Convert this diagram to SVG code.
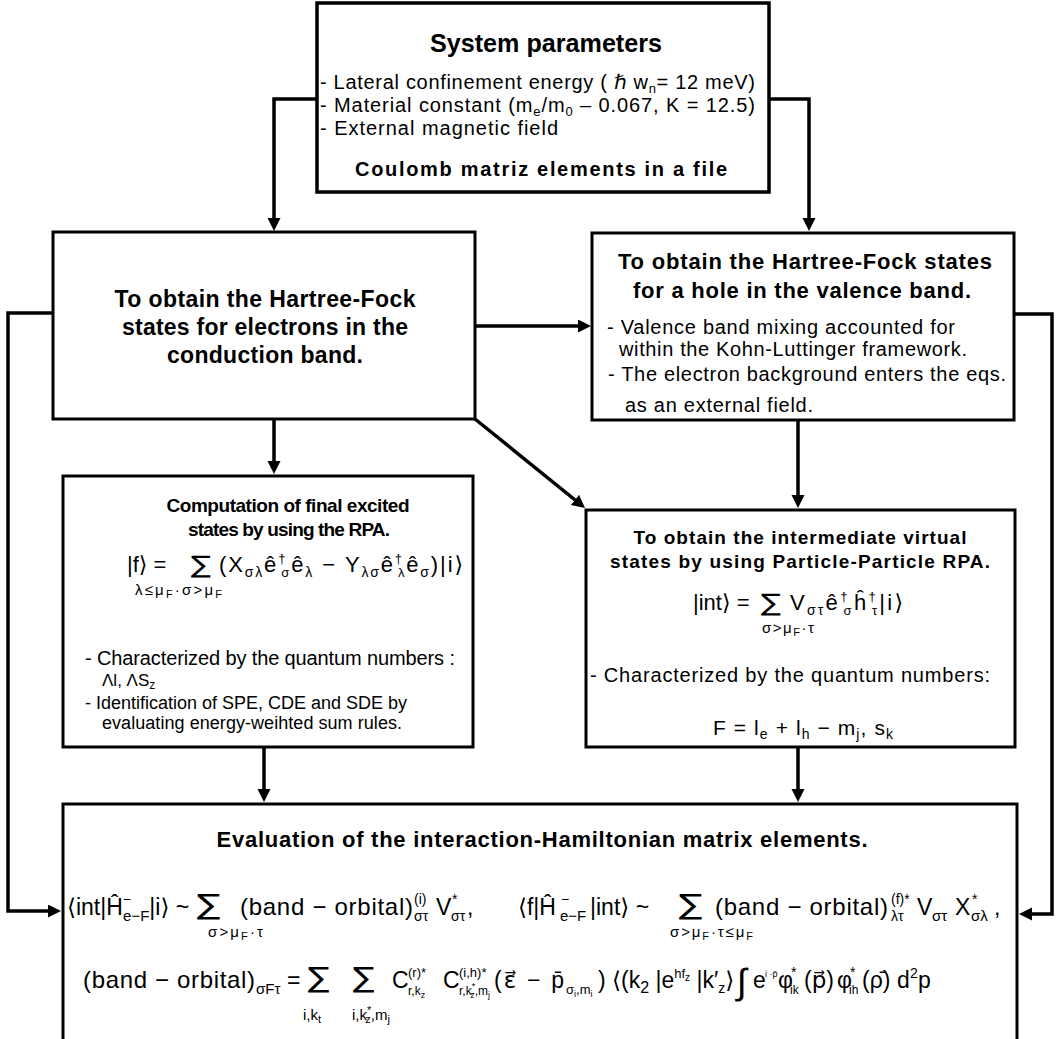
<svg xmlns="http://www.w3.org/2000/svg" width="1057" height="1039" viewBox="0 0 1057 1039">
<style>
text{font-family:"Liberation Sans","DejaVu Sans",sans-serif;fill:#000}
.b{font-weight:bold}
.box{fill:#fff;stroke:#000;stroke-width:3}
.c{fill:none;stroke:#000;stroke-width:3.5}
.m{text-anchor:middle}
.sum{font-family:"DejaVu Sans",sans-serif}
</style>
<defs>
<marker id="ah" markerUnits="userSpaceOnUse" markerWidth="14" markerHeight="14" refX="9" refY="6.5" orient="auto"><path d="M0,0 L13,6.5 L0,13 z" fill="#000"/></marker>
</defs>
<rect width="1057" height="1039" fill="#fff"/>

<g id="connectors">
<path class="c" d="M317,99 H274 V227" marker-end="url(#ah)"/>
<path class="c" d="M769,99 H809 V227" marker-end="url(#ah)"/>
<path class="c" d="M475,326 H587" marker-end="url(#ah)"/>
<path class="c" d="M274,419 V470" marker-end="url(#ah)"/>
<path class="c" d="M475,419 L581.9,505.5" marker-end="url(#ah)"/>
<path class="c" d="M798,420 V504" marker-end="url(#ah)"/>
<path class="c" d="M264,747 V798" marker-end="url(#ah)"/>
<path class="c" d="M798,747 V798" marker-end="url(#ah)"/>
<path class="c" d="M53,313 H8 V911 H57" marker-end="url(#ah)"/>
<path class="c" d="M1014,314 H1052 V914 H1023" marker-end="url(#ah)"/>
</g>

<g id="system-parameters">
<rect class="box" x="317" y="3" width="452" height="189" style="stroke-width:3.5"/>
<text class="b m" x="546" y="52" font-size="26" textLength="232" lengthAdjust="spacingAndGlyphs">System parameters</text>
<text x="320" y="89" font-size="20" textLength="435">- Lateral confinement energy ( <tspan font-style="italic">ℏ</tspan> w<tspan font-size="13" dy="4">n</tspan><tspan dy="-4">= 12 meV)</tspan></text>
<text x="320" y="112" font-size="20" textLength="435">- Material constant (m<tspan font-size="13" dy="4">e</tspan><tspan dy="-4">/m</tspan><tspan font-size="13" dy="4">0</tspan><tspan dy="-4"> – 0.067, K = 12.5)</tspan></text>
<text x="320" y="135" font-size="20" textLength="238">- External magnetic field</text>
<text class="b m" x="541" y="176" font-size="20" textLength="372">Coulomb matriz elements in a file</text>
</g>

<g id="hf-electrons">
<rect class="box" x="53" y="232" width="422" height="187"/>
<text class="b m" x="265" y="307" font-size="23" textLength="301">To obtain the Hartree-Fock</text>
<text class="b m" x="265" y="335" font-size="23" textLength="286">states for electrons in the</text>
<text class="b m" x="265" y="363" font-size="23" textLength="196">conduction band.</text>
</g>

<g id="hf-hole">
<rect class="box" x="592" y="233" width="422" height="187"/>
<text class="b m" x="805" y="269" font-size="22" textLength="374">To obtain the Hartree-Fock states</text>
<text class="b m" x="802" y="298" font-size="22" textLength="338">for a hole in the valence band.</text>
<text x="607" y="334" font-size="20" textLength="348">- Valence band mixing accounted for</text>
<text x="619" y="356" font-size="20" textLength="348">within the Kohn-Luttinger framework.</text>
<text x="608" y="381" font-size="20" textLength="398">- The electron background enters the eqs.</text>
<text x="625" y="412" font-size="20" textLength="188">as an external field.</text>
</g>

<g id="rpa">
<rect class="box" x="63" y="476" width="410" height="271"/>
<text class="b m" x="288" y="512" font-size="19" textLength="243">Computation of final excited</text>
<text class="b m" x="289" y="536" font-size="19" textLength="202">states by using the RPA.</text>
<text x="127" y="572" font-size="22">|f⟩ =</text>
<text class="sum" font-size="24" transform="translate(191,573) scale(1.25,1)">∑</text>
<text x="219" y="572" font-size="22" textLength="244">(X<tspan font-size="14" dy="5">σλ</tspan><tspan dy="-5">ê</tspan><tspan font-size="13" dy="-9">†</tspan><tspan font-size="13" dx="-6" dy="14">σ</tspan><tspan dy="-5">ê</tspan><tspan font-size="14" dy="5">λ</tspan><tspan dy="-5"> − Y</tspan><tspan font-size="14" dy="5">λσ</tspan><tspan dy="-5">ê</tspan><tspan font-size="13" dy="-9">†</tspan><tspan font-size="13" dx="-6" dy="14">λ</tspan><tspan dy="-5">ê</tspan><tspan font-size="14" dy="5">σ</tspan><tspan dy="-5">)|i⟩</tspan></text>
<text x="135" y="595" font-size="15" textLength="87">λ≤μ<tspan font-size="11" dy="3">F</tspan><tspan dy="-3">·σ&gt;μ</tspan><tspan font-size="11" dy="3">F</tspan></text>
<text x="85" y="665" font-size="20" textLength="370">- Characterized by the quantum numbers :</text>
<text x="102" y="686" font-size="17">Λl, ΛS<tspan font-size="12" dy="3">z</tspan></text>
<text x="85" y="709" font-size="18" textLength="322">- Identification of SPE, CDE and SDE by</text>
<text x="102" y="729" font-size="18" textLength="300">evaluating energy-weihted sum rules.</text>
</g>

<g id="pp-rpa">
<rect class="box" x="586" y="510" width="429" height="237"/>
<text class="b m" x="800" y="544" font-size="19" textLength="333">To obtain the intermediate virtual</text>
<text class="b m" x="800" y="568" font-size="19" textLength="380">states by using Particle-Particle RPA.</text>
<text x="693" y="610" font-size="22">|int⟩ =</text>
<text class="sum" font-size="24" transform="translate(761,611) scale(1.25,1)">∑</text>
<text x="790" y="610" font-size="22" textLength="113">V<tspan font-size="14" dy="5">στ</tspan><tspan dy="-5">ê</tspan><tspan font-size="13" dy="-9">†</tspan><tspan font-size="13" dx="-6" dy="14">σ</tspan><tspan dy="-5">ĥ</tspan><tspan font-size="13" dy="-9">†</tspan><tspan font-size="13" dx="-6" dy="14">τ</tspan><tspan dy="-5">|i⟩</tspan></text>
<text x="762" y="633" font-size="15" textLength="52">σ&gt;μ<tspan font-size="11" dy="3">F</tspan><tspan dy="-3">·τ</tspan></text>
<text x="590" y="682" font-size="20" textLength="400">- Characterized by the quantum numbers:</text>
<text x="713" y="735" font-size="21" textLength="180">F = l<tspan font-size="14" dy="4">e</tspan><tspan dy="-4"> + l</tspan><tspan font-size="14" dy="4">h</tspan><tspan dy="-4"> − m</tspan><tspan font-size="14" dy="4">j</tspan><tspan dy="-4">, s</tspan><tspan font-size="14" dy="4">k</tspan></text>
</g>

<g id="interaction-hamiltonian">
<rect class="box" x="63" y="804" width="954" height="260"/>
<text class="b m" x="542" y="847" font-size="22" textLength="651">Evaluation of the interaction-Hamiltonian matrix elements.</text>

<text x="67" y="915" font-size="23">⟨int|Ĥ<tspan font-size="14" dy="-11">−</tspan><tspan font-size="15" dx="-8" dy="17">e−F</tspan><tspan dy="-6">|i⟩ ~</tspan></text>
<text class="sum" font-size="28" transform="translate(197,914) scale(1.25,1)">∑</text>
<text x="208" y="937" font-size="15" textLength="55">σ&gt;μ<tspan font-size="11" dy="3">F</tspan><tspan dy="-3">·τ</tspan></text>
<text x="240" y="915" font-size="24" textLength="173">(band − orbital)</text>
<text x="414" y="904" font-size="14">(i)</text>
<text x="414" y="921" font-size="14">στ</text>
<text x="436" y="915" font-size="23">V</text>
<text x="452" y="904" font-size="14">*</text>
<text x="451" y="921" font-size="14">στ</text>
<text x="467" y="915" font-size="23">,</text>

<text x="518" y="915" font-size="23">⟨f|Ĥ</text>
<text x="561" y="904" font-size="14">−</text>
<text x="560" y="921" font-size="15">e−F</text>
<text x="590" y="915" font-size="23">|int⟩ ~</text>
<text class="sum" font-size="28" transform="translate(679,914) scale(1.25,1)">∑</text>
<text x="670" y="937" font-size="15" textLength="83">σ&gt;μ<tspan font-size="11" dy="3">F</tspan><tspan dy="-3">·τ≤μ</tspan><tspan font-size="11" dy="3">F</tspan></text>
<text x="715" y="915" font-size="24" textLength="173">(band − orbital)</text>
<text x="891" y="904" font-size="14">(f)*</text>
<text x="891" y="921" font-size="14">λτ</text>
<text x="917" y="915" font-size="23">V</text>
<text x="932" y="921" font-size="15">στ</text>
<text x="955" y="915" font-size="23">X</text>
<text x="972" y="904" font-size="14">*</text>
<text x="971" y="921" font-size="15">σλ</text>
<text x="994" y="915" font-size="23">,</text>

<text x="83" y="988" font-size="24" textLength="172">(band − orbital)</text>
<text x="256" y="994" font-size="15">σFτ</text>
<text x="287" y="988" font-size="23">=</text>
<text class="sum" font-size="28" transform="translate(308,987) scale(1.15,1)">∑</text>
<text class="sum" font-size="28" transform="translate(353,987) scale(1.15,1)">∑</text>
<text x="303" y="1020" font-size="15">i,k<tspan font-size="11" dy="3">t</tspan></text>
<text x="352" y="1020" font-size="15">i,k<tspan font-size="11" dy="-6">*</tspan><tspan font-size="11" dx="-6" dy="9">z</tspan><tspan dy="-3">,m</tspan><tspan font-size="11" dy="3">j</tspan></text>
<text x="392" y="988" font-size="23">C</text>
<text x="408" y="977" font-size="13">(r)*</text>
<text x="408" y="995" font-size="12">r,k<tspan font-size="9" dy="3">z</tspan></text>
<text x="443" y="988" font-size="23">C</text>
<text x="459" y="977" font-size="13">(i,h)*</text>
<text x="459" y="995" font-size="12">r,k<tspan font-size="9" dy="-6">*</tspan><tspan font-size="9" dx="-5" dy="9">z</tspan><tspan dy="-3">,m</tspan><tspan font-size="9" dy="3">j</tspan></text>
<text x="494" y="988" font-size="23" textLength="70">(ε⃗ − p̄</text>
<text x="566" y="994" font-size="13">σ<tspan font-size="9" dy="3">i</tspan><tspan dy="-3">,m</tspan><tspan font-size="9" dy="3">i</tspan></text>
<text x="598" y="988" font-size="23">)</text>
<text x="612" y="988" font-size="23">⟨(k<tspan dy="5" font-size="16">2</tspan><tspan dy="-5"> |e</tspan><tspan font-size="13" dy="-10">hf</tspan><tspan font-size="10" dy="3">z</tspan><tspan dy="7"> |k′</tspan><tspan font-size="14" dy="5">z</tspan><tspan dy="-5">⟩</tspan></text>
<text x="737" y="994" font-size="36">∫</text>
<text x="753" y="988" font-size="23">e</text>
<text x="765" y="977" font-size="9">i ·p̄</text>
<text x="778" y="988" font-size="23">φ</text>
<text x="791" y="977" font-size="14">*</text>
<text x="790" y="994" font-size="12">ik</text>
<text x="804" y="988" font-size="23">(p⃗)</text>
<text x="837" y="988" font-size="23">φ</text>
<text x="850" y="977" font-size="14">*</text>
<text x="849" y="994" font-size="12">ih</text>
<text x="862" y="988" font-size="23">(ρ̄)</text>
<text x="897" y="988" font-size="23">d</text>
<text x="910" y="978" font-size="14">2</text>
<text x="918" y="988" font-size="23">p</text>
</g>
</svg>
